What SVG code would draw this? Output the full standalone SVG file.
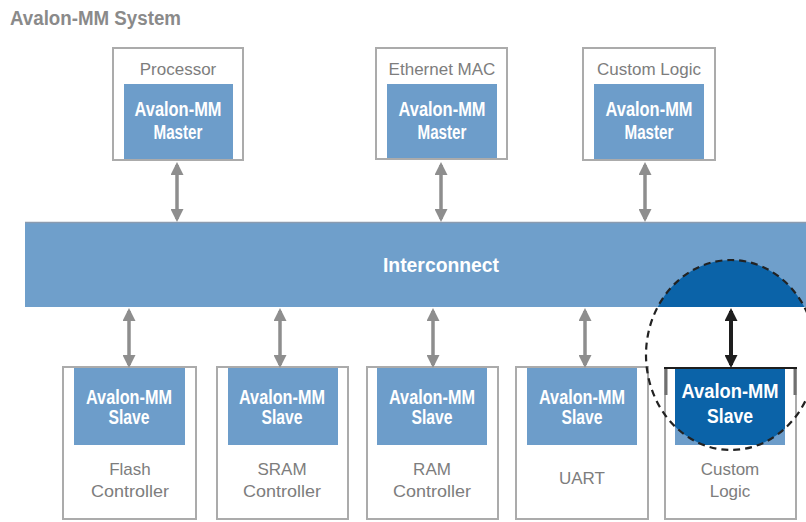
<svg xmlns="http://www.w3.org/2000/svg" width="806" height="522" viewBox="0 0 806 522">
  <style>
    .frame { fill: none; stroke: #ababab; stroke-width: 2; }
    .bg { fill: #ffffff; }
    .blue { fill: #6d9dca; }
    .label { font-family: "Liberation Sans", Arial, sans-serif; font-size: 17px; fill: #7d7d7d; text-anchor: middle; }
    .port { font-family: "Liberation Sans", Arial, sans-serif; font-weight: bold; font-size: 20px; fill: #ffffff; text-anchor: middle; }
    .title { font-family: "Liberation Sans", Arial, sans-serif; font-weight: bold; font-size: 20px; fill: #8a8a8a; }
    .link { stroke: #8e8e8e; stroke-width: 3.5; marker-start: url(#head); marker-end: url(#head); }
    .link-hot { stroke: #1e1e1e; stroke-width: 4; marker-start: url(#headDark); marker-end: url(#headDark); }
  </style>
  <defs>
    <marker id="head" viewBox="0 0 13 13" refX="10" refY="6.5" markerWidth="13" markerHeight="13" markerUnits="userSpaceOnUse" orient="auto-start-reverse">
      <path d="M0,0 L13,6.5 L0,13 z" fill="#8e8e8e"/>
    </marker>
    <marker id="headDark" viewBox="0 0 13 13" refX="10" refY="6.5" markerWidth="13" markerHeight="13" markerUnits="userSpaceOnUse" orient="auto-start-reverse">
      <path d="M0,0 L13,6.5 L0,13 z" fill="#1e1e1e"/>
    </marker>
    <clipPath id="focus">
      <ellipse cx="731" cy="355" rx="85" ry="95"/>
    </clipPath>
  </defs>

  <text class="title" x="10" y="25" textLength="171" lengthAdjust="spacingAndGlyphs">Avalon-MM System</text>

  <!-- masters -->
  <g id="processor">
    <rect class="bg" x="113" y="48" width="130" height="112"/>
    <rect class="blue" x="124" y="84" width="109" height="76"/>
    <rect class="frame" x="113" y="48" width="130" height="112"/>
    <text class="label" x="178" y="75">Processor</text>
    <text class="port" x="178" y="116" textLength="87" lengthAdjust="spacingAndGlyphs">Avalon-MM</text>
    <text class="port" x="178" y="139" textLength="49" lengthAdjust="spacingAndGlyphs">Master</text>
  </g>
  <g id="ethernet-mac">
    <rect class="bg" x="376" y="48" width="131" height="111"/>
    <rect class="blue" x="387" y="84" width="110" height="75"/>
    <rect class="frame" x="376" y="48" width="131" height="111"/>
    <text class="label" x="442" y="75">Ethernet MAC</text>
    <text class="port" x="442" y="116" textLength="87" lengthAdjust="spacingAndGlyphs">Avalon-MM</text>
    <text class="port" x="442" y="139" textLength="49" lengthAdjust="spacingAndGlyphs">Master</text>
  </g>
  <g id="custom-logic-master">
    <rect class="bg" x="583" y="48" width="132" height="112"/>
    <rect class="blue" x="594" y="84" width="110" height="76"/>
    <rect class="frame" x="583" y="48" width="132" height="112"/>
    <text class="label" x="649" y="75">Custom Logic</text>
    <text class="port" x="649" y="116" textLength="87" lengthAdjust="spacingAndGlyphs">Avalon-MM</text>
    <text class="port" x="649" y="139" textLength="49" lengthAdjust="spacingAndGlyphs">Master</text>
  </g>

  <!-- interconnect fabric -->
  <g id="interconnect">
    <rect x="25" y="222" width="790" height="85" fill="#6f9fcb"/>
    <line x1="25" y1="222.5" x2="806" y2="222.5" stroke="#8a9bb0" stroke-width="1.5"/>
    <rect x="25" y="222" width="790" height="85" fill="#0b63a8" clip-path="url(#focus)"/>
    <text class="port" x="441" y="272" textLength="116" lengthAdjust="spacingAndGlyphs">Interconnect</text>
  </g>

  <!-- slaves -->
  <g id="flash-controller">
    <rect class="bg" x="63" y="367" width="133" height="152"/>
    <rect class="blue" x="74" y="367" width="111" height="78"/>
    <rect class="frame" x="63" y="367" width="133" height="152"/>
    <text class="port" x="129" y="404" font-size="19" textLength="86" lengthAdjust="spacingAndGlyphs">Avalon-MM</text>
    <text class="port" x="129" y="424" font-size="19" textLength="41" lengthAdjust="spacingAndGlyphs">Slave</text>
    <text class="label" x="130" y="475">Flash</text>
    <text class="label" x="130" y="497" textLength="78" lengthAdjust="spacingAndGlyphs">Controller</text>
  </g>
  <g id="sram-controller">
    <rect class="bg" x="217" y="367" width="131" height="152"/>
    <rect class="blue" x="228" y="367" width="110" height="78"/>
    <rect class="frame" x="217" y="367" width="131" height="152"/>
    <text class="port" x="282" y="404" font-size="19" textLength="86" lengthAdjust="spacingAndGlyphs">Avalon-MM</text>
    <text class="port" x="282" y="424" font-size="19" textLength="41" lengthAdjust="spacingAndGlyphs">Slave</text>
    <text class="label" x="282" y="475">SRAM</text>
    <text class="label" x="282" y="497" textLength="78" lengthAdjust="spacingAndGlyphs">Controller</text>
  </g>
  <g id="ram-controller">
    <rect class="bg" x="367" y="367" width="131" height="152"/>
    <rect class="blue" x="377" y="367" width="110" height="78"/>
    <rect class="frame" x="367" y="367" width="131" height="152"/>
    <text class="port" x="432" y="404" font-size="19" textLength="86" lengthAdjust="spacingAndGlyphs">Avalon-MM</text>
    <text class="port" x="432" y="424" font-size="19" textLength="41" lengthAdjust="spacingAndGlyphs">Slave</text>
    <text class="label" x="432" y="475">RAM</text>
    <text class="label" x="432" y="497" textLength="78" lengthAdjust="spacingAndGlyphs">Controller</text>
  </g>
  <g id="uart">
    <rect class="bg" x="516" y="367" width="132" height="152"/>
    <rect class="blue" x="527" y="367" width="110" height="78"/>
    <rect class="frame" x="516" y="367" width="132" height="152"/>
    <text class="port" x="582" y="404" font-size="19" textLength="86" lengthAdjust="spacingAndGlyphs">Avalon-MM</text>
    <text class="port" x="582" y="424" font-size="19" textLength="41" lengthAdjust="spacingAndGlyphs">Slave</text>
    <text class="label" x="582" y="484">UART</text>
  </g>
  <g id="custom-logic-slave">
    <rect class="bg" x="665" y="368" width="131" height="151"/>
    <rect class="blue" x="675" y="368" width="110" height="77"/>
    <rect x="675" y="368" width="110" height="77" fill="#0b63a8" clip-path="url(#focus)"/>
    <rect class="frame" x="665" y="368" width="131" height="151"/>
    <line x1="666" y1="369" x2="666" y2="395" stroke="#707070" stroke-width="3"/>
    <line x1="795" y1="369" x2="795" y2="395" stroke="#707070" stroke-width="3"/>
    <line x1="664" y1="368" x2="797" y2="368" stroke="#1e1e1e" stroke-width="2"/>
    <text class="port" x="730" y="398" font-size="22" textLength="97" lengthAdjust="spacingAndGlyphs">Avalon-MM</text>
    <text class="port" x="730" y="423" font-size="22" textLength="46" lengthAdjust="spacingAndGlyphs">Slave</text>
    <text class="label" x="730" y="475">Custom</text>
    <text class="label" x="730" y="497">Logic</text>
  </g>

  <!-- dashed outline around the highlighted slave port -->
  <ellipse cx="731" cy="355" rx="85" ry="95" fill="none" stroke="#222222" stroke-width="2.2" stroke-dasharray="7 5"/>

  <!-- connectors -->
  <g id="connectors">
    <line class="link" x1="177" y1="165" x2="177" y2="219"/>
    <line class="link" x1="441" y1="165" x2="441" y2="219"/>
    <line class="link" x1="645" y1="165" x2="645" y2="219"/>
    <line class="link" x1="129" y1="311" x2="129" y2="365"/>
    <line class="link" x1="280" y1="311" x2="280" y2="365"/>
    <line class="link" x1="433" y1="311" x2="433" y2="365"/>
    <line class="link" x1="585" y1="311" x2="585" y2="365"/>
    <line class="link-hot" x1="731" y1="311" x2="731" y2="365"/>
  </g>
</svg>
